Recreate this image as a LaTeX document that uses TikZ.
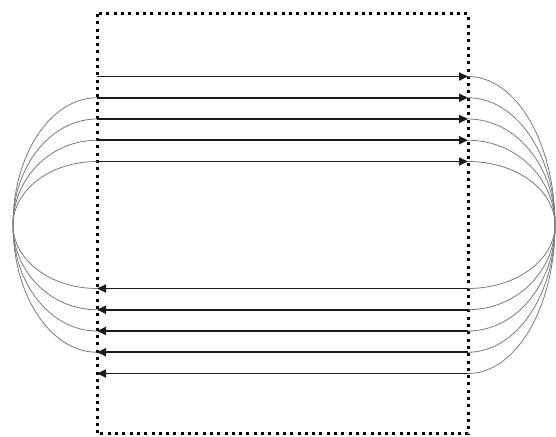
\documentclass[tikz,border=0pt]{standalone}
\usepackage{tikz}
\usetikzlibrary{arrows.meta}
\definecolor{lnDark}{HTML}{1A1A1A}
\definecolor{lnGrey}{HTML}{7A7A7A}
\tikzset{
 flow/.style={-{Triangle[length=9bp,width=8bp]}, line width=1.9bp, lnDark},
 wrapline/.style={line width=0.8bp, lnGrey},
 frame/.style={line width=3bp, black, dash pattern=on 3bp off 4.3bp}
}
% one lane: #1 name, #2 half height above/below the middle line
\newcommand{\lane}[2]{%
 \coordinate (#1tl) at (97,{212+#2});
 \coordinate (#1tr) at (468,{212+#2});
 \coordinate (#1bl) at (97,{212-#2});
 \coordinate (#1br) at (468,{212-#2});
 \draw[flow] (#1tl) -- (#1tr);
 \draw[flow] (#1br) -- (#1bl);
 \draw[wrapline] (#1tr) arc[start angle=90, end angle=-90, x radius=87, y radius=#2];}

\begin{document}
\begin{tikzpicture}[x=1bp, y=1bp]
\useasboundingbox (0,0) rectangle (556,437);
\draw[frame] (97,423) rectangle (468,3);
\lane{a}{63.5}
\lane{b}{84.75}
\lane{c}{106}
\lane{d}{127.25}
\lane{e}{148.5}
% left side turns
\draw[wrapline] (atl) arc[start angle=90, end angle=270, x radius=84, y radius=63.5];
\draw[wrapline] (btl) arc[start angle=90, end angle=270, x radius=84, y radius=84.75];
\draw[wrapline] (ctl) arc[start angle=90, end angle=270, x radius=84, y radius=106];
\draw[wrapline] (dtl) arc[start angle=90, end angle=270, x radius=84, y radius=127.25];
\end{tikzpicture}
\end{document}
